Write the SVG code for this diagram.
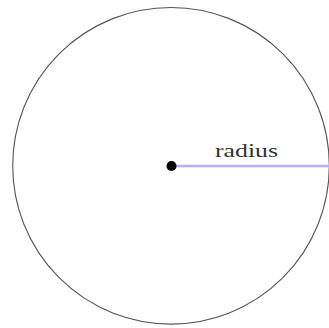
<svg xmlns="http://www.w3.org/2000/svg" width="329" height="328" viewBox="0 0 329 328">
<style>
.lbl{font-family:"Liberation Serif","DejaVu Serif",serif;font-size:19px;fill:#333}
</style>
<rect width="329" height="328" fill="#fff"/>
<g id="circle"><circle cx="171" cy="165.8" r="158.3" fill="none" stroke="#555" stroke-width="1.1"/></g>
<g id="connectors"><line x1="171.5" y1="166" x2="329" y2="166" stroke="#b0b0ff" stroke-width="2.6"/></g>
<g id="center"><circle cx="171.5" cy="166" r="5" fill="#000"/></g>
<g id="label"><text class="lbl" x="215" y="156.5" textLength="63" lengthAdjust="spacingAndGlyphs">radius</text></g>
</svg>
